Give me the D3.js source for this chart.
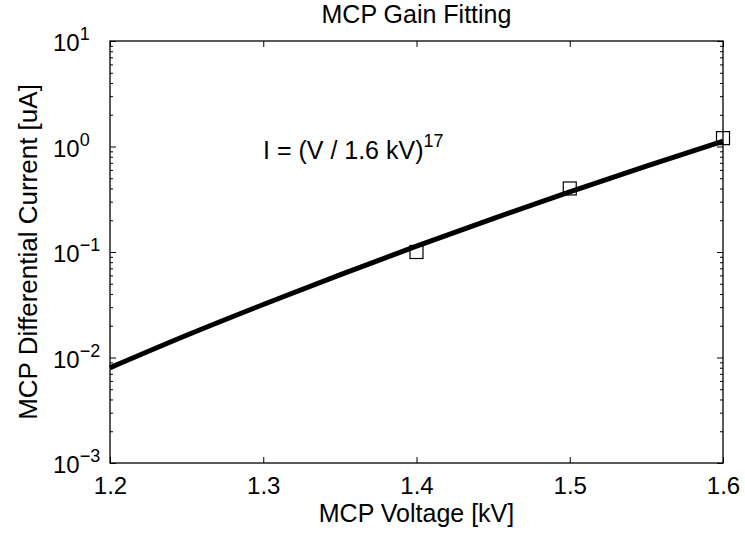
<!DOCTYPE html>
<html><head><meta charset="utf-8">
<script src="https://cdn.jsdelivr.net/npm/d3@7"></script>
<style>body{margin:0;background:#fff}svg{display:block}</style>
</head><body><svg id="c" width="745" height="539"></svg>
<script>
// Measured data points
const voltage = [1.4, 1.5, 1.6];
const current = [0.1, 0.4, 1.2];
// Fit curve as drawn in the picture, read at each 0.05 kV
const fitVoltage = [1.20, 1.25, 1.30, 1.35, 1.40, 1.45, 1.50, 1.55, 1.60];
const fitCurrent = [0.0080, 0.01625, 0.0318, 0.0608, 0.1135, 0.2075, 0.3718, 0.6530, 1.125];
// Ticks
const xTicks = [1.2, 1.3, 1.4, 1.5, 1.6];
const xTickLabels = ["1.2", "1.3", "1.4", "1.5", "1.6"];
const yTickExps = [-3, -2, -1, 0, 1];
const yTickExpLabels = ["\u22123", "\u22122", "\u22121", "0", "1"];
const titleText = "MCP Gain Fitting";
const xLabel = "MCP Voltage [kV]";
const yLabel = "MCP Differential Current [uA]";
const annotMain = "I = (V / 1.6 kV)";
const annotExp = "17";

const L = 110, R = 723, T = 41, B = 463;
const FONT = "'Liberation Sans', Arial, Helvetica, sans-serif";
const svg = d3.select("#c").style("font-family", FONT);

const x = d3.scaleLinear().domain([1.2, 1.6]).range([L, R]);
const y = d3.scaleLog().domain([1e-3, 1e1]).range([B, T]);

const majorY = yTickExps.map(e => Math.pow(10, e));
const minorY = [];
yTickExps.slice(0, -1).forEach(e => { for (let k = 2; k <= 9; k++) minorY.push(k * Math.pow(10, e)); });

function styleAxis(g) {
  g.select(".domain").remove();
  g.selectAll(".tick line").attr("stroke", "#000").attr("stroke-width", 1);
}

// x axes (ticks inward)
svg.append("g").attr("transform", `translate(0,${B})`)
  .call(d3.axisBottom(x).tickValues(xTicks).tickSize(-6).tickPadding(14)
    .tickFormat((d, i) => xTickLabels[i]))
  .call(styleAxis)
  .call(g => g.selectAll("text").attr("font-size", 24).attr("fill", "#000").attr("font-family", FONT));
svg.append("g").attr("transform", `translate(0,${T})`)
  .call(d3.axisTop(x).tickValues(xTicks).tickSize(-6).tickFormat(""))
  .call(styleAxis);

// y axes major + minor
svg.append("g").attr("transform", `translate(${L},0)`)
  .call(d3.axisLeft(y).tickValues(majorY).tickSize(-6).tickFormat(""))
  .call(styleAxis);
svg.append("g").attr("transform", `translate(${L},0)`)
  .call(d3.axisLeft(y).tickValues(minorY).tickSize(-3).tickFormat(""))
  .call(styleAxis);
svg.append("g").attr("transform", `translate(${R},0)`)
  .call(d3.axisRight(y).tickValues(majorY).tickSize(-6).tickFormat(""))
  .call(styleAxis);
svg.append("g").attr("transform", `translate(${R},0)`)
  .call(d3.axisRight(y).tickValues(minorY).tickSize(-3).tickFormat(""))
  .call(styleAxis);

// y tick labels 10^e
const ylab = svg.append("g").selectAll("text").data(majorY).join("text")
  .attr("x", 53).attr("y", d => y(d) + 10)
  .attr("font-size", 24).attr("fill", "#000");
ylab.append("tspan").text("10");
ylab.append("tspan").attr("dy", -11).attr("font-size", 18).text((d, i) => yTickExpLabels[i]);

// box
svg.append("rect").attr("x", L).attr("y", T).attr("width", R - L).attr("height", B - T)
  .attr("fill", "none").attr("stroke", "#000").attr("stroke-width", 1.3);

// fit line
const fit = fitVoltage.map((v, i) => [v, fitCurrent[i]]);
svg.append("path").datum(fit)
  .attr("fill", "none").attr("stroke", "#000").attr("stroke-width", 5)
  .attr("d", d3.line().x(d => x(d[0])).y(d => y(d[1])).curve(d3.curveMonotoneX));

// markers
const s = 13;
svg.append("g").selectAll("rect").data(voltage.map((v, i) => [v, current[i]])).join("rect")
  .attr("x", d => x(d[0]) - s / 2).attr("y", d => y(d[1]) - s / 2)
  .attr("width", s).attr("height", s)
  .attr("fill", "none").attr("stroke", "#000").attr("stroke-width", 1.2);

// annotation
const ann = svg.append("text").attr("x", 263).attr("y", 159).attr("font-size", 25).attr("fill", "#000");
ann.append("tspan").text(annotMain);
ann.append("tspan").attr("dy", -12).attr("font-size", 18).text(annotExp);

// title & labels
svg.append("text").attr("x", (L + R) / 2).attr("y", 23).attr("text-anchor", "middle")
  .attr("font-size", 25).attr("fill", "#000").text(titleText);
svg.append("text").attr("x", (L + R) / 2).attr("y", 522).attr("text-anchor", "middle")
  .attr("font-size", 25).attr("fill", "#000").text(xLabel);
svg.append("text").attr("transform", `translate(37,${(T + B) / 2}) rotate(-90)`).attr("text-anchor", "middle")
  .attr("font-size", 26).attr("fill", "#000").text(yLabel);
</script></body></html>
